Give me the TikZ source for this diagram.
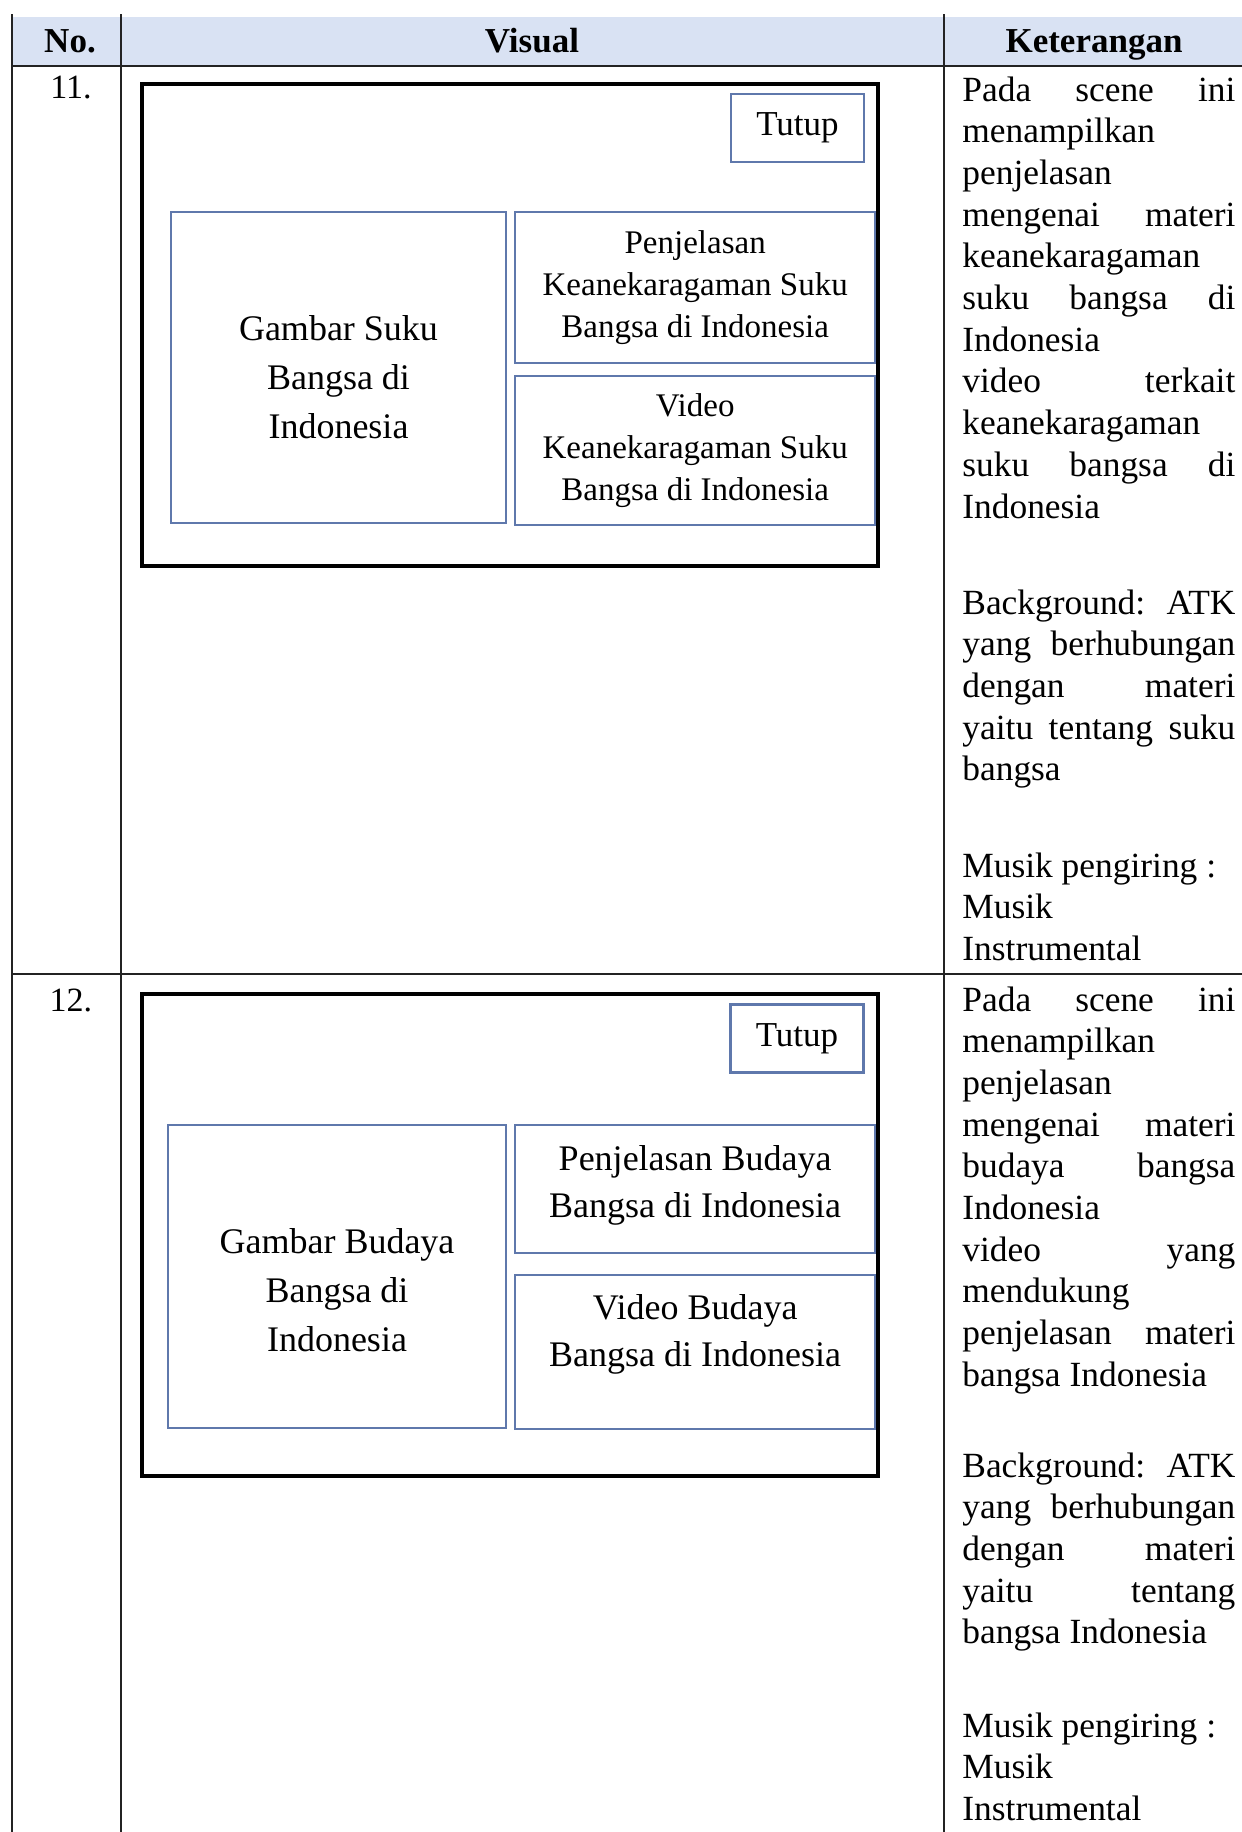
\documentclass[tikz,border=0pt]{standalone}
\usepackage{fontspec}
\setmainfont{Liberation Serif}
\usepackage{tikz}
\usetikzlibrary{positioning}

\definecolor{hdrblue}{RGB}{217,226,243}
\definecolor{boxblue}{RGB}{95,120,172}
\definecolor{rulegray}{RGB}{35,35,35}

\begin{document}
\begin{tikzpicture}[x=0.5pt, y=-0.5pt,
		rules/.style   = {draw=rulegray, line width=1pt},
		head/.style    = {anchor=base, inner sep=0pt, font=\fontsize{17.5}{21}\selectfont\bfseries},
		num/.style     = {inner sep=0pt, font=\fontsize{17}{21}\selectfont},
		screen/.style  = {draw=black, line width=2.3pt, minimum width=368pt, minimum height=241pt, inner sep=0pt},
		basic/.style   = {draw=boxblue, line width=1.1pt, inner sep=0pt},
		tutup/.style   = {basic, minimum width=66.5pt, minimum height=34pt, font=\fontsize{17.5}{21}\selectfont},
		boxtext/.style = {inner sep=0pt, align=center},
		ket/.style     = {anchor=base west, inner sep=0pt, text width=136.5pt, align=justify, font=\fontsize{17.7}{20.85}\selectfont}]
		
		\useasboundingbox (0,0) rectangle (1242,1832);
		
		% table grid and header band
		\fill[hdrblue] (12,17) rectangle (1242,66);
		\foreach \x in {12,121,944}
		\draw[rules] (\x,14) -- (\x,1832);
		\foreach \y in {66,974}
		\draw[rules] (12,\y) -- (1242,\y);
		
		\node[head] (hno) at (70,52) {No.};
		\node[head] (hvis) at (532,52) {Visual};
		\node[head] (hket) at (1094,52) {Keterangan};
		
		% row 11, the screen with its boxes
		\node[num] (n11) at (71,88) {11.};
		\node[screen] (s11) at (510,325) {};
		\node[tutup] (t11) at (797.5,128) {Tutup};
		\node[basic, minimum width=167.5pt, minimum height=155.5pt] (g11) at (338.5,367.5) {};
		\node[basic, minimum width=180pt, minimum height=75.5pt, right=3.5pt of g11.north east, anchor=north west] (p11) {};
		\node[basic, minimum width=180pt, minimum height=74.5pt, below=5.5pt of p11] (v11) {};
		
		\begin{scope}[every node/.style={boxtext}]
		\node [yshift=-4.75pt, font=\fontsize{18}{24.5}\selectfont] at (g11) (g11t) {Gambar Suku\\Bangsa di\\Indonesia};
		\node [font=\fontsize{16.5}{21}\selectfont] at (p11) (p11t) {Penjelasan\\Keanekaragaman Suku\\Bangsa di Indonesia};
		\node [font=\fontsize{16.5}{21}\selectfont] at (v11) (v11t) {Video\\Keanekaragaman Suku\\Bangsa di Indonesia};
		\end{scope}
		
		\node[ket] (k11a) at (962,101) {Pada\hfill scene\hfill ini\\
			menampilkan\\
			penjelasan\\
			mengenai\hfill materi\\
			keanekaragaman\\
			suku\hfill bangsa\hfill di\\
			Indonesia\\
			video\hfill terkait\\
			keanekaragaman\\
			suku\hfill bangsa\hfill di\\
			Indonesia};
		\node[ket] (k11b) at (962,614) {Background:\hfill ATK\\
			yang\hfill berhubungan\\
			dengan\hfill materi\\
			yaitu\hfill tentang\hfill suku\\
			bangsa};
		\node[ket] (k11c) at (962,877) {Musik pengiring :\\
			Musik\\
			Instrumental};
		
		% row 12, the screen with its boxes
		\node[num] (n12) at (71,1000) {12.};
		\node[screen] (s12) at (510,1235) {};
		\node[tutup] (t12) at (797,1038.5) {Tutup};
		\node[basic, minimum width=169pt, minimum height=151.5pt] (g12) at (337,1276.5) {};
		\node[basic, minimum width=180pt, minimum height=64pt, right=3.5pt of g12.north east, anchor=north west] (p12) {};
		\node[basic, minimum width=180pt, minimum height=77pt, below=10pt of p12] (v12) {};
		
		\begin{scope}[every node/.style={boxtext, font=\fontsize{18}{23.5}\selectfont}]
		\node [yshift=-6.75pt, font=\fontsize{18}{24.5}\selectfont] at (g12) (g12t) {Gambar Budaya\\Bangsa di\\Indonesia};
		\node [yshift=2pt] at (p12) (p12t) {Penjelasan Budaya\\Bangsa di Indonesia};
		\node [yshift=9pt] at (v12) (v12t) {Video Budaya\\Bangsa di Indonesia};
		\end{scope}
		
		\node[ket] (k12a) at (962,1011) {Pada\hfill scene\hfill ini\\
			menampilkan\\
			penjelasan\\
			mengenai\hfill materi\\
			budaya\hfill bangsa\\
			Indonesia\\
			video\hfill yang\\
			mendukung\\
			penjelasan\hfill materi\\
			bangsa Indonesia};
		\node[ket] (k12b) at (962,1477) {Background:\hfill ATK\\
			yang\hfill berhubungan\\
			dengan\hfill materi\\
			yaitu\hfill tentang\\
			bangsa Indonesia};
		\node[ket] (k12c) at (962,1737) {Musik pengiring :\\
			Musik\\
			Instrumental};
		
	\end{tikzpicture}
\end{document}
